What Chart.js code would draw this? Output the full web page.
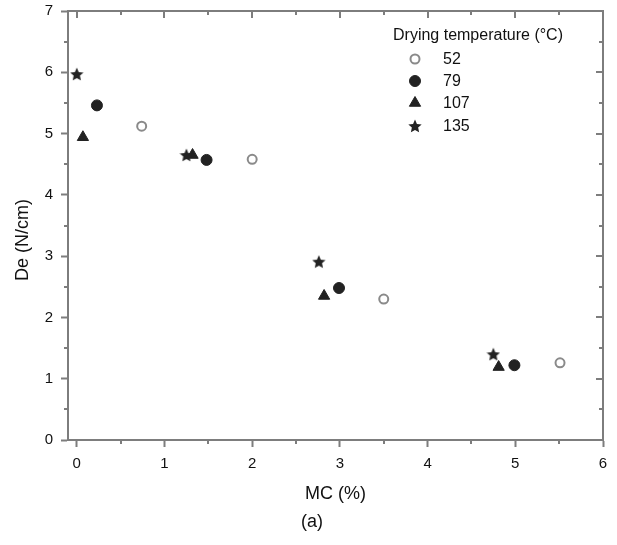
<!DOCTYPE html>
<html>
<head>
<meta charset="utf-8">
<script src="https://cdn.jsdelivr.net/npm/chart.js@4.4.1/dist/chart.umd.min.js"></script>
<style>
  body { margin: 0; background: #fff; }
  #wrap { width: 617px; height: 545px; }
</style>
</head>
<body>
<div id="wrap"><canvas id="chart" width="617" height="545"></canvas></div>
<script>
// values
var temps = ['52', '79', '107', '135'];
var mc52 = [0.74, 2.0, 3.5, 5.51];
var de52 = [5.12, 4.58, 2.30, 1.26];
var mc79 = [0.23, 1.48, 2.99, 4.99];
var de79 = [5.46, 4.57, 2.48, 1.22];
var mc107 = [0.07, 1.32, 2.82, 4.81];
var de107 = [4.94, 4.65, 2.35, 1.19];
var mc135 = [0.0, 1.25, 2.76, 4.75];
var de135 = [5.97, 4.65, 2.91, 1.40];
var xTicks = [0, 1, 2, 3, 4, 5, 6];
var yTicks = [0, 1, 2, 3, 4, 5, 6, 7];

var axisGrey = '#7d7d7d';
var ink = '#222';
var fontName = '"Liberation Sans", Arial, sans-serif';

function toPoints(xs, ys) {
  var pts = [];
  for (var i = 0; i < xs.length; i++) pts.push({ x: xs[i], y: ys[i] });
  return pts;
}

// filled five point star, used as point style
function makeStar(size, color) {
  var c = document.createElement('canvas');
  c.width = size; c.height = size;
  var g = c.getContext('2d');
  var cx = size / 2, cy = size / 2 + 0.6;
  var outer = size / 2, inner = outer * 0.47;
  g.beginPath();
  for (var i = 0; i < 10; i++) {
    var r = i % 2 === 0 ? outer : inner;
    var a = -Math.PI / 2 + i * Math.PI / 5;
    var px = cx + r * Math.cos(a), py = cy + r * Math.sin(a);
    if (i === 0) g.moveTo(px, py); else g.lineTo(px, py);
  }
  g.closePath();
  g.fillStyle = color;
  g.fill();
  return c;
}
var star = makeStar(14, ink);

function pointLine(x1, y1, x2, y2, ctx) {
  ctx.beginPath();
  ctx.moveTo(x1, y1);
  ctx.lineTo(x2, y2);
  ctx.stroke();
}

// frame, minor ticks, mirrored ticks, y title, legend and panel label
var extras = {
  id: 'extras',
  afterDraw: function (chart) {
    var ctx = chart.ctx;
    var area = chart.chartArea;
    var xs = chart.scales.x, ys = chart.scales.y;
    ctx.save();
    ctx.strokeStyle = axisGrey;
    ctx.lineWidth = 2;
    pointLine(area.left - 1, area.top, area.right + 1, area.top, ctx);
    pointLine(area.right, area.top, area.right, area.bottom + 1, ctx);

    var v, px, len;
    for (v = 0; v <= 6.001; v += 0.5) {
      px = Math.round(xs.getPixelForValue(v));
      len = (v % 1 === 0) ? 7 : 4;
      if (v % 1 !== 0) pointLine(px, area.bottom, px, area.bottom + len, ctx);
      pointLine(px, area.top, px, area.top + len, ctx);
    }
    for (v = 0; v <= 7.001; v += 0.5) {
      px = Math.round(ys.getPixelForValue(v));
      len = (v % 1 === 0) ? 7 : 4;
      if (v % 1 !== 0) pointLine(area.left - len, px, area.left, px, ctx);
      pointLine(area.right - len, px, area.right, px, ctx);
    }

    // y axis title, sits a little below the middle of the axis
    ctx.fillStyle = '#111';
    ctx.font = '18px ' + fontName;
    ctx.textBaseline = 'middle';
    ctx.textAlign = 'center';
    ctx.save();
    ctx.translate(23, 240);
    ctx.rotate(-Math.PI / 2);
    ctx.fillText('De (N/cm)', 0, 0);
    ctx.restore();

    // legend
    ctx.font = '16px ' + fontName;
    ctx.textAlign = 'left';
    ctx.fillText('Drying temperature (\u00B0C)', 393, 36);
    var rows = [59, 81, 103, 126];
    chart.data.datasets.forEach(function (ds, i) {
      var opts = {
        pointStyle: ds.pointStyle,
        radius: ds.pointRadius,
        borderWidth: ds.borderWidth,
        rotation: 0
      };
      ctx.fillStyle = ds.backgroundColor;
      ctx.strokeStyle = ds.borderColor;
      ctx.lineWidth = ds.borderWidth;
      Chart.helpers.drawPoint(ctx, opts, 415, rows[i]);
      ctx.fillStyle = '#111';
      ctx.fillText(temps[i], 443, rows[i] + 1);
    });

    ctx.font = '18px ' + fontName;
    ctx.textAlign = 'center';
    ctx.fillText('(a)', 312, 522);
    ctx.restore();
  }
};

new Chart(document.getElementById('chart'), {
  type: 'scatter',
  data: {
    datasets: [
      { label: temps[0], data: toPoints(mc52, de52), pointStyle: 'circle', pointRadius: 4.5,
        backgroundColor: '#fff', borderColor: '#8a8a8a', borderWidth: 2 },
      { label: temps[1], data: toPoints(mc79, de79), pointStyle: 'circle', pointRadius: 5.5,
        backgroundColor: ink, borderColor: ink, borderWidth: 1 },
      { label: temps[2], data: toPoints(mc107, de107), pointStyle: 'triangle', pointRadius: 6.5,
        backgroundColor: ink, borderColor: ink, borderWidth: 1 },
      { label: temps[3], data: toPoints(mc135, de135), pointStyle: star, pointRadius: 6,
        backgroundColor: ink, borderColor: ink, borderWidth: 1 }
    ]
  },
  options: {
    responsive: false,
    animation: false,
    layout: { padding: { top: 11, right: 14, left: 0, bottom: 0 } },
    plugins: {
      legend: { display: false },
      tooltip: { enabled: false }
    },
    scales: {
      x: {
        type: 'linear',
        min: -0.1,
        max: 6,
        afterBuildTicks: function (scale) {
          scale.ticks = xTicks.map(function (t) { return { value: t }; });
        },
        afterFit: function (scale) { scale.height = 105; },
        border: { color: axisGrey, width: 2 },
        grid: { drawOnChartArea: false, tickLength: 7, tickColor: axisGrey, tickWidth: 2 },
        ticks: { color: '#111', padding: 8, font: { family: fontName, size: 15 } },
        title: { display: true, text: 'MC (%)', color: '#111', padding: { top: 8, bottom: 40 },
          font: { family: fontName, size: 18 } }
      },
      y: {
        type: 'linear',
        min: 0,
        max: 7,
        afterBuildTicks: function (scale) {
          scale.ticks = yTicks.map(function (t) { return { value: t }; });
        },
        afterFit: function (scale) {
          scale.width = 68;
          scale.paddingTop = 0;
          scale.paddingBottom = 0;
        },
        border: { color: axisGrey, width: 2 },
        grid: { drawOnChartArea: false, tickLength: 7, tickColor: axisGrey, tickWidth: 2 },
        ticks: { color: '#111', padding: 8, font: { family: fontName, size: 15 } },
        title: { display: false }
      }
    }
  },
  plugins: [extras]
});
</script>
</body>
</html>
